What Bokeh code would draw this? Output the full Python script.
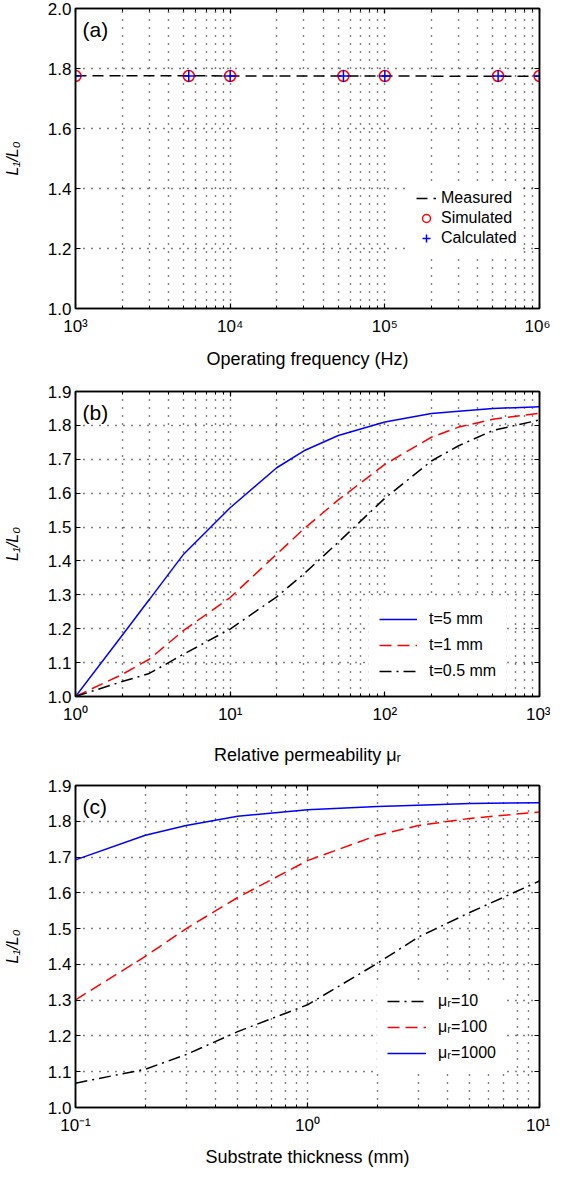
from bokeh.plotting import figure
from bokeh.models import FixedTicker, Legend, LegendItem, Label, LinearAxis, LogAxis, Range1d
from bokeh.layouts import column
from bokeh.embed import file_html
from bokeh.resources import INLINE

FONT = "Liberation Sans"

# ---------------- data: panel (a) ----------------
freq_hz = [1e3, 5.4e3, 1e4, 5.4e4, 1e5, 5.4e5, 1e6]
measured = [1.776, 1.776, 1.775, 1.775, 1.775, 1.774, 1.774]
simulated = [1.775, 1.775, 1.775, 1.775, 1.775, 1.775, 1.775]
calculated = [1.775, 1.775, 1.775, 1.775, 1.775, 1.775, 1.775]

# ---------------- data: panel (b) ----------------
mu_r = [1, 2, 3, 5, 10, 20, 30, 50, 100, 200, 300, 500, 1000]
b_t5mm = [1.0, 1.18, 1.286, 1.42, 1.557, 1.675, 1.725, 1.77, 1.81, 1.835, 1.842, 1.85, 1.855]
b_t1mm = [1.0, 1.065, 1.11, 1.195, 1.292, 1.42, 1.495, 1.58, 1.685, 1.765, 1.795, 1.818, 1.836]
b_t05mm = [1.0, 1.044, 1.068, 1.125, 1.199, 1.294, 1.362, 1.455, 1.585, 1.695, 1.74, 1.785, 1.816]

# ---------------- data: panel (c) ----------------
thick_mm = [0.1, 0.2, 0.3, 0.5, 1, 2, 3, 5, 10]
c_mu10 = [1.068, 1.107, 1.148, 1.212, 1.287, 1.403, 1.476, 1.545, 1.633]
c_mu100 = [1.301, 1.4225, 1.5, 1.587, 1.69, 1.761, 1.788, 1.808, 1.826]
c_mu1000 = [1.692, 1.761, 1.788, 1.814, 1.832, 1.841, 1.845, 1.85, 1.852]

# ---------------- tick labels ----------------
a_xticks = [1e3, 1e4, 1e5, 1e6]
a_xlabels = ["10³", "10⁴", "10⁵", "10⁶"]
b_xticks = [1, 10, 100, 1000]
b_xlabels = ["10⁰", "10¹", "10²", "10³"]
c_xticks = [0.1, 1, 10]
c_xlabels = ["10⁻¹", "10⁰", "10¹"]
a_yticks = [1.0, 1.2, 1.4, 1.6, 1.8, 2.0]
a_ylabels = ["1.0", "1.2", "1.4", "1.6", "1.8", "2.0"]
bc_yticks = [1.0, 1.1, 1.2, 1.3, 1.4, 1.5, 1.6, 1.7, 1.8, 1.9]
bc_ylabels = ["1.0", "1.1", "1.2", "1.3", "1.4", "1.5", "1.6", "1.7", "1.8", "1.9"]


def minor_of(decades):
    out = []
    for d in decades[:-1]:
        for k in range(2, 10):
            out.append(round(d * k, 10))
    return out


def make_fig(xr, yr, xt, xl, yt, yl, fh, bt, bb, xlabel, xlab_standoff):
    p = figure(x_axis_type="log", x_range=Range1d(*xr), y_range=Range1d(*yr),
               width=68 + 471 + 11, height=bt + fh + bb,
               min_border_left=68, min_border_right=11,
               min_border_top=bt, min_border_bottom=bb,
               output_backend="svg", toolbar_location=None)
    p.background_fill_color = "white"
    p.border_fill_color = "white"
    p.outline_line_color = "black"
    p.outline_line_width = 1.5
    p.xaxis.ticker = FixedTicker(ticks=xt, minor_ticks=minor_of(xt))
    p.yaxis.ticker = FixedTicker(ticks=yt, minor_ticks=[])
    p.xaxis.major_label_overrides = {t: s for t, s in zip(xt, xl)}
    p.yaxis.major_label_overrides = {t: s for t, s in zip(yt, yl)}
    for ax in (p.xaxis[0], p.yaxis[0]):
        ax.axis_line_color = "black"
        ax.axis_line_width = 1.5
        ax.major_tick_in = 5
        ax.major_tick_out = 0
        ax.major_tick_line_width = 1.2
        ax.minor_tick_in = 3
        ax.minor_tick_out = 0
        ax.major_label_text_font = FONT
        ax.major_label_text_font_size = "17px"
        ax.major_label_text_color = "black"
        ax.axis_label_text_font = FONT
        ax.axis_label_text_font_size = "18px"
        ax.axis_label_text_font_style = "normal"
        ax.axis_label_text_color = "black"
    p.yaxis.minor_tick_line_color = None
    p.xaxis.major_label_standoff = 8
    p.yaxis.major_label_standoff = 4
    p.xaxis.axis_label = xlabel
    p.xaxis.axis_label_standoff = xlab_standoff
    p.yaxis.axis_label = "L₁/L₀"
    p.yaxis.axis_label_text_font_style = "italic"
    p.yaxis.axis_label_text_font_size = "16px"
    p.yaxis.axis_label_standoff = 24

    # box ticks on the right and top (no visible labels)
    ra = LinearAxis(ticker=FixedTicker(ticks=yt, minor_ticks=[]),
                    major_label_overrides={t: "" for t in yt},
                    major_label_text_font_size="1px", major_label_standoff=0,
                    major_tick_in=5, major_tick_out=0, minor_tick_line_color=None,
                    axis_line_width=1.5, major_tick_line_width=1.2)
    ta = LogAxis(ticker=FixedTicker(ticks=xt, minor_ticks=minor_of(xt)),
                 major_label_overrides={t: "" for t in xt},
                 major_label_text_font_size="1px", major_label_standoff=0,
                 major_tick_in=5, major_tick_out=0, minor_tick_in=3, minor_tick_out=0,
                 axis_line_width=1.5, major_tick_line_width=1.2)
    p.add_layout(ra, "right")
    p.add_layout(ta, "above")

    for g in (p.xgrid[0], p.ygrid[0]):
        g.grid_line_color = "black"
        g.grid_line_dash = "1 7"
        g.grid_line_width = 1.4
    p.xgrid.minor_grid_line_color = "black"
    p.xgrid.minor_grid_line_dash = "1 7"
    p.xgrid.minor_grid_line_width = 1.4
    return p


def panel_label(p, x, y, txt):
    p.add_layout(Label(x=x, y=y, x_offset=7, y_offset=-9, text=txt,
                       text_align="left", text_baseline="top",
                       text_font=FONT, text_font_size="21px", text_color="black"))


def style_legend(lg):
    lg.border_line_alpha = 0
    lg.background_fill_color = "white"
    lg.background_fill_alpha = 1
    lg.label_text_font = FONT
    lg.label_text_font_size = "16px"
    lg.label_text_color = "black"
    lg.margin = 0


# ---------------- panel (a) ----------------
pa = make_fig((1e3, 1e6), (1.0, 2.0), a_xticks, a_xlabels, a_yticks, a_ylabels,
              301, 8, 62, "Operating frequency (Hz)", 10)
ra_m = pa.line(freq_hz, measured, line_color="black", line_width=1.5, line_dash="11 6")
ra_s = pa.scatter(freq_hz, simulated, marker="circle", size=11, fill_color=None,
                  line_color="red", line_width=1.5)
ra_c = pa.scatter(freq_hz, calculated, marker="cross", size=12,
                  line_color="blue", line_width=1.5)
panel_label(pa, 1e3, 2.0, "(a)")
lga = Legend(items=[LegendItem(label="Measured", renderers=[ra_m]),
                    LegendItem(label="Simulated", renderers=[ra_s]),
                    LegendItem(label="Calculated", renderers=[ra_c])],
             location=(335, 54), glyph_width=20, glyph_height=20, label_height=20,
             label_standoff=5, spacing=0, padding=6)
style_legend(lga)
pa.add_layout(lga)

# ---------------- panel (b) ----------------
pb = make_fig((1, 1000), (1.0, 1.9), b_xticks, b_xlabels, bc_yticks, bc_ylabels,
              309, 20, 67, "Relative permeability μᵣ", 18)
rb1 = pb.line(mu_r, b_t5mm, line_color="blue", line_width=1.5)
rb2 = pb.line(mu_r, b_t1mm, line_color="red", line_width=1.5, line_dash="12 6")
rb3 = pb.line(mu_r, b_t05mm, line_color="black", line_width=1.5, line_dash="12 5 2 5")
panel_label(pb, 1, 1.9, "(b)")
lgb = Legend(items=[LegendItem(label="t=5 mm", renderers=[rb1]),
                    LegendItem(label="t=1 mm", renderers=[rb2]),
                    LegendItem(label="t=0.5 mm", renderers=[rb3])],
             location=(294, 5), glyph_width=38, glyph_height=20, label_height=20,
             label_standoff=12, spacing=6, padding=10)
style_legend(lgb)
pb.add_layout(lgb)

# ---------------- panel (c) ----------------
pc = make_fig((0.1, 10), (1.0, 1.9), c_xticks, c_xlabels, bc_yticks, bc_ylabels,
              325, 18, 59, "Substrate thickness (mm)", 9)
rc1 = pc.line(thick_mm, c_mu10, line_color="black", line_width=1.5, line_dash="12 5 2 5")
rc2 = pc.line(thick_mm, c_mu100, line_color="red", line_width=1.5, line_dash="12 6")
rc3 = pc.line(thick_mm, c_mu1000, line_color="blue", line_width=1.5)
panel_label(pc, 0.1, 1.9, "(c)")
lgc = Legend(items=[LegendItem(label="μᵣ=10", renderers=[rc1]),
                    LegendItem(label="μᵣ=100", renderers=[rc2]),
                    LegendItem(label="μᵣ=1000", renderers=[rc3])],
             location=(302, 34), glyph_width=39, glyph_height=20, label_height=20,
             label_standoff=12, spacing=6, padding=10)
style_legend(lgc)
pc.add_layout(lgc)

layout = column(pa, pb, pc, spacing=0)
open("out.html", "w").write(file_html(layout, INLINE))
